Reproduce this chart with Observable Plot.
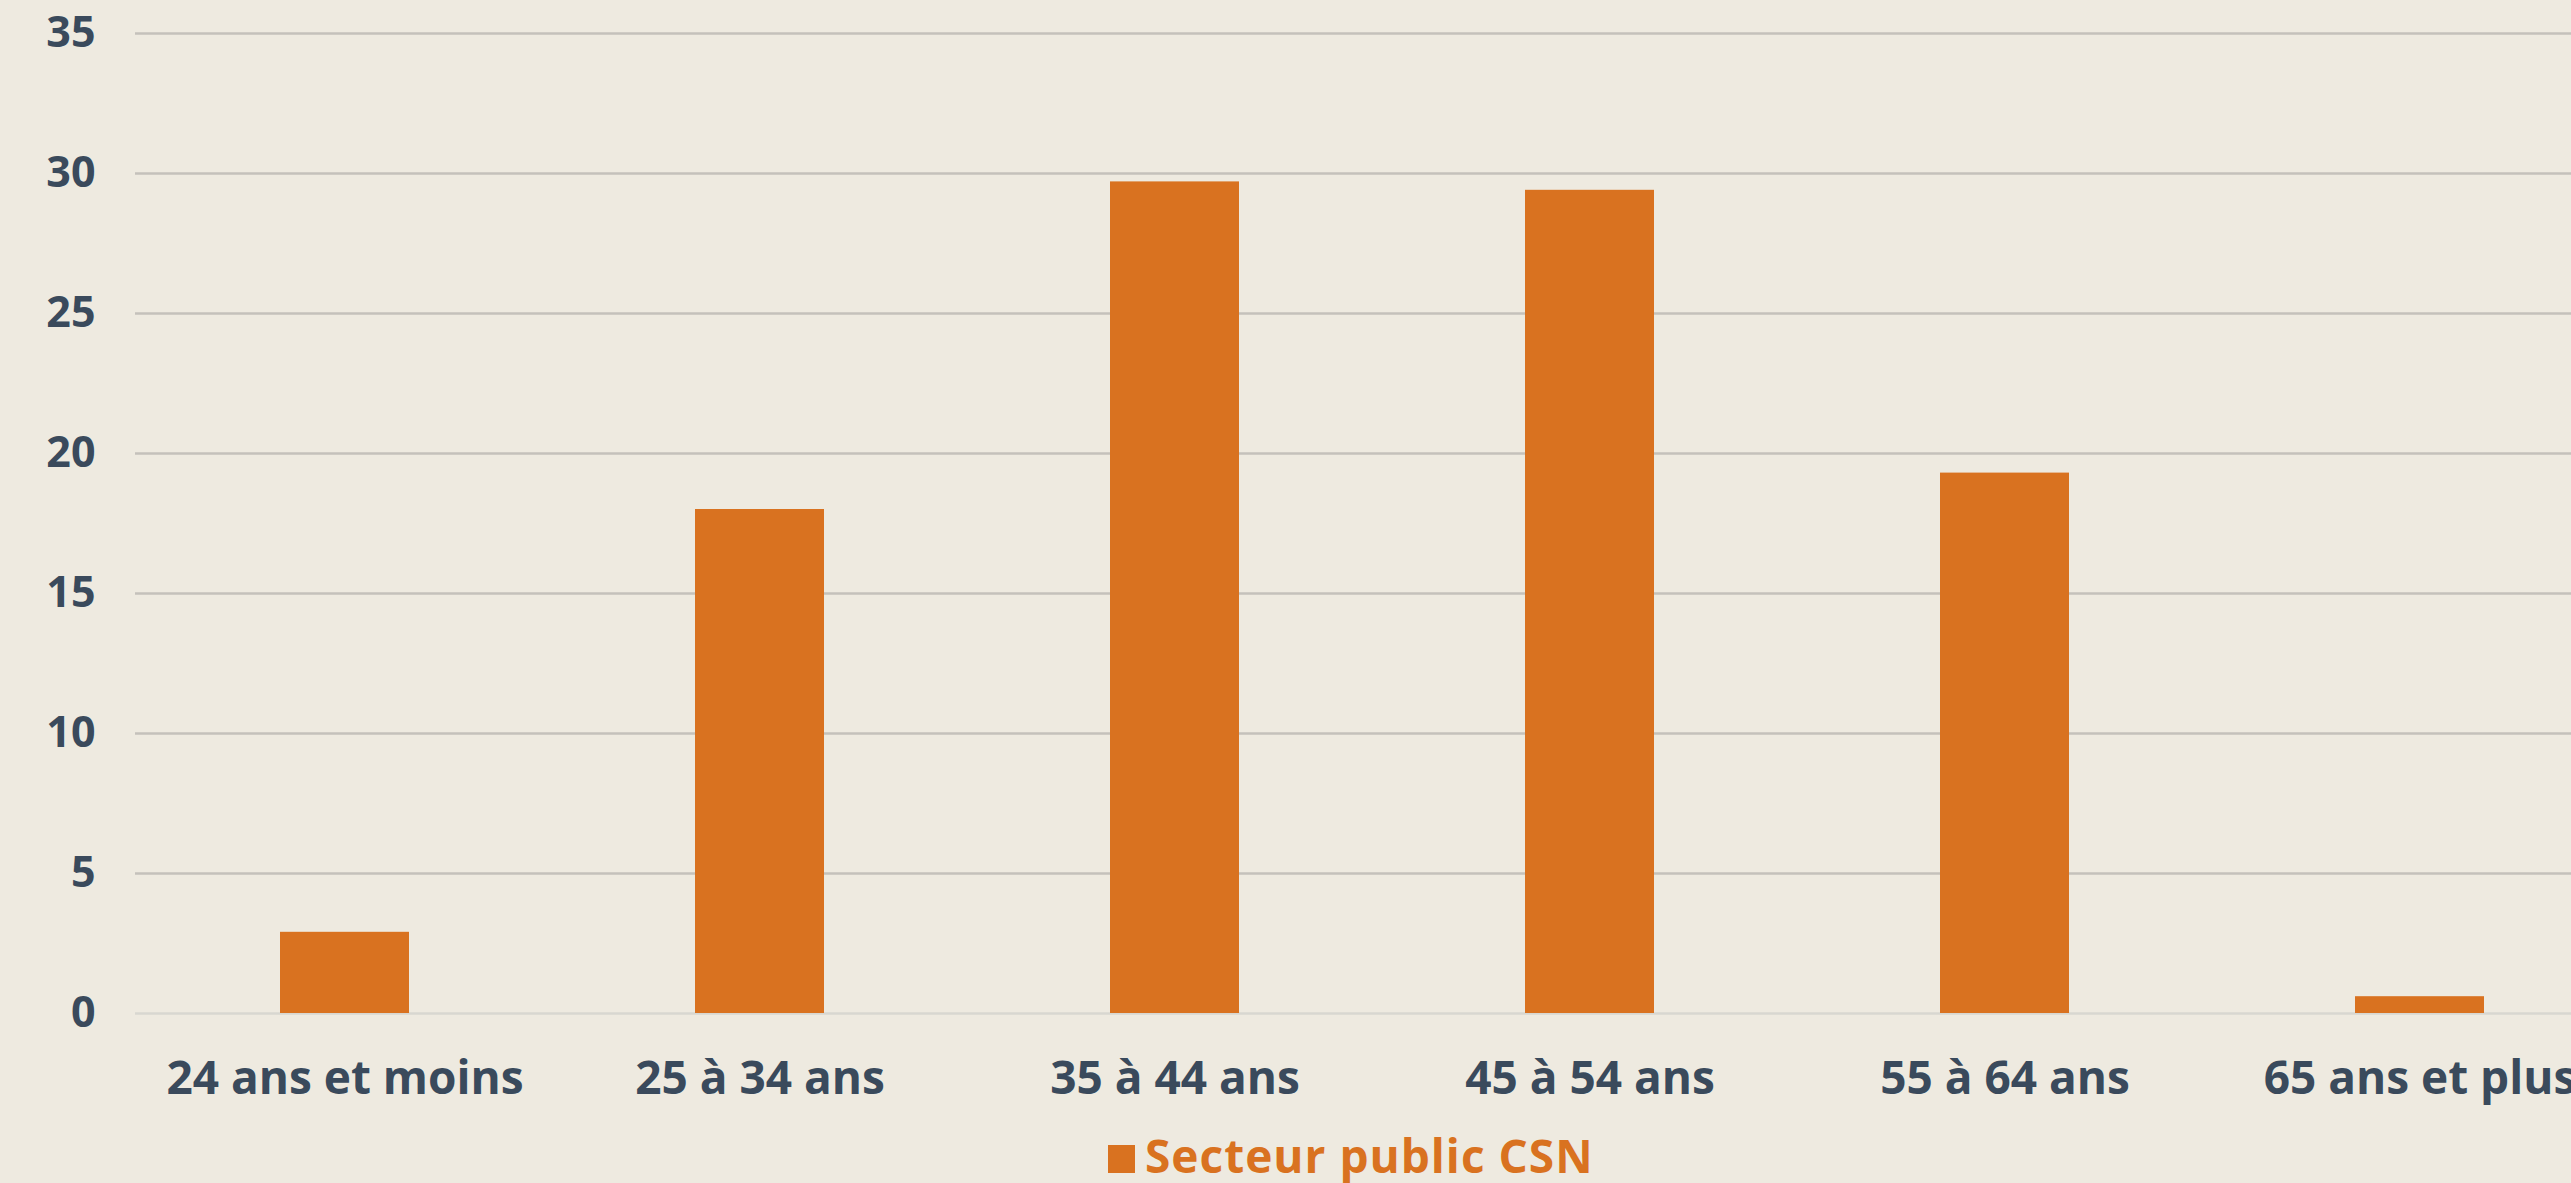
<!DOCTYPE html>
<html>
<head>
<meta charset="utf-8">
<script src="https://cdn.jsdelivr.net/npm/d3@7"></script>
<script src="https://cdn.jsdelivr.net/npm/@observablehq/plot@0.6"></script>
<style>
  html, body { margin: 0; padding: 0; background: #eeeae0; overflow: hidden; width: 2571px; height: 1183px; }
  #chart { position: absolute; left: 0; top: 0; width: 2630px; }
  #chart svg { max-width: none !important; }
  #legend { position: absolute; left: 1108px; top: 1133px; display: flex; align-items: flex-start;
    font-family: "Open Sans", Lato, sans-serif; font-weight: 700; font-size: 46px; line-height: 45px;
    letter-spacing: 1px; color: #d97220; white-space: nowrap; }
  #legend .sw { width: 27px; height: 28px; background: #d97220; margin-right: 10px; margin-top: 12px; }
</style>
</head>
<body>
<div id="chart"></div>
<div id="legend"></div>
<script>
const categories = ["24 ans et moins", "25 à 34 ans", "35 à 44 ans", "45 à 54 ans", "55 à 64 ans", "65 ans et plus"];
const values = [2.9, 18.0, 29.7, 29.4, 19.3, 0.6];
const seriesName = "Secteur public CSN";
const yTicks = [0, 5, 10, 15, 20, 25, 30, 35];

const data = categories.map((c, i) => ({category: c, value: values[i]}));

const barColor = "#d97220";
const textColor = "#3a4a5c";

const chart = Plot.plot({
  width: 2630,
  height: 1112,
  marginLeft: 135,
  marginRight: 1,
  marginTop: 33,
  marginBottom: 99,
  style: {background: "transparent", fontFamily: "'Open Sans', Lato, sans-serif", fontWeight: 700, fontSize: "45px", color: textColor, overflow: "visible", maxWidth: "none"},
  x: {domain: categories, paddingInner: 0.688, paddingOuter: 0.344, label: null},
  y: {domain: [0, 35], label: null},
  marks: [
    Plot.ruleY(yTicks.filter(d => d > 0), {stroke: "#c4c1bb", strokeWidth: 2.5}),
    Plot.ruleY([0], {stroke: "#d8d7d1", strokeWidth: 2.5}),
    Plot.barY(data, {x: "category", y: "value", fill: barColor}),
    Plot.axisX({tickSize: 0, tickPadding: 48, fontSize: 46, fill: textColor}),
    Plot.axisY({ticks: yTicks, tickSize: 0, tickPadding: 40, fontSize: 43, fill: textColor})
  ]
});
document.getElementById("chart").appendChild(chart);

const lg = document.getElementById("legend");
const sw = document.createElement("div"); sw.className = "sw";
const tx = document.createElement("span"); tx.textContent = seriesName;
lg.appendChild(sw); lg.appendChild(tx);
</script>
</body>
</html>
